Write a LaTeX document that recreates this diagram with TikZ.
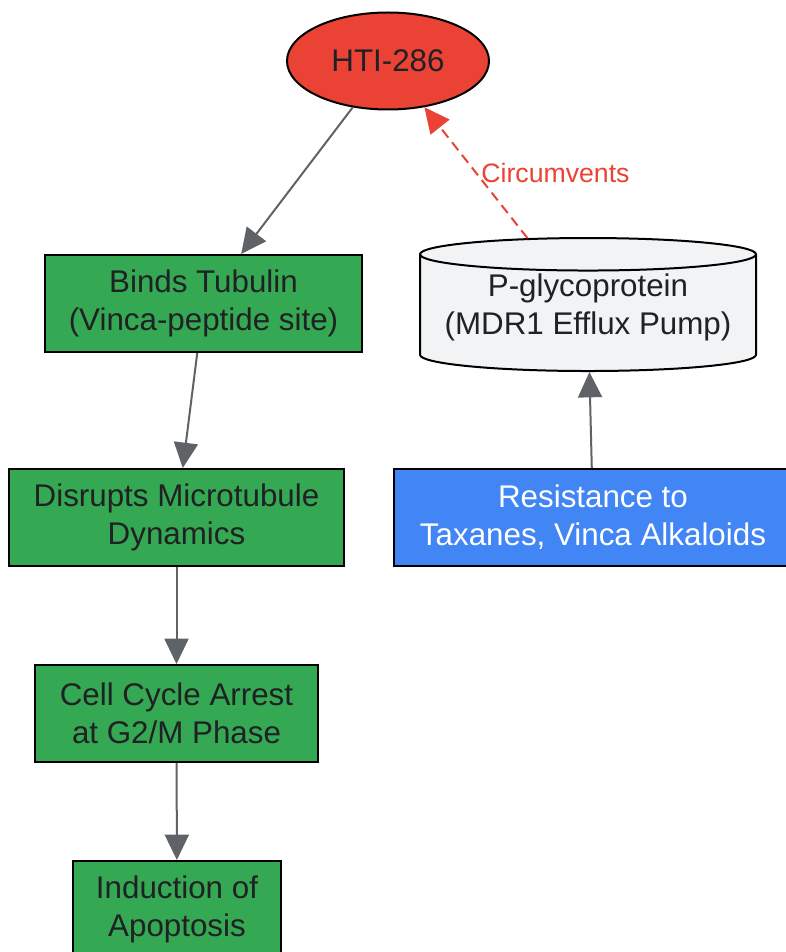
\documentclass[tikz,border=0pt]{standalone}
\usepackage{fontspec}
\setmainfont{Liberation Sans}
\usetikzlibrary{shapes.geometric,arrows.meta}
\definecolor{drugred}{HTML}{EA4335}
\definecolor{stepgreen}{HTML}{34A853}
\definecolor{resblue}{HTML}{4285F4}
\definecolor{pumpgray}{HTML}{F1F3F4}
\definecolor{edgegray}{HTML}{5F6368}
\definecolor{txt}{HTML}{202124}

\begin{document}
\begin{tikzpicture}[x=0.75pt,y=-0.75pt,
	box/.style={draw=black, line width=1.5pt, fill=stepgreen, text=txt, align=center,
		minimum height=72.75pt, inner sep=0pt, font=\fontsize{23.5}{28.5}\selectfont},
	flow/.style={draw=edgegray, line width=1.5pt, -{Triangle[length=19pt,width=18pt]}}]
	\useasboundingbox (0,0) rectangle (785,952);

	%drug
	\node[ellipse, draw=black, line width=1.5pt, fill=drugred, text=txt, inner sep=0pt,
		minimum width=151.5pt, minimum height=72.75pt, font=\fontsize{23.5}{28.5}\selectfont]
		(hti) at (388,61) {HTI-286};

	%mechanism
	\node[box, minimum width=237.75pt] (binds) at (203.5,303.5) {Binds Tubulin\\(Vinca-peptide site)};
	\node[box, minimum width=251.25pt] (disrupt) at (176.5,517.5) {Disrupts Microtubule\\Dynamics};
	\node[box, minimum width=212.25pt] (arrest) at (176.5,713.5) {Cell Cycle Arrest\\at G2/M Phase};
	\node[box, minimum width=156pt] (apop) at (177,909.5) {Induction of\\Apoptosis};

	%resistance
	\node[cylinder, shape border rotate=90, aspect=0.11, draw=black, line width=1.5pt,
		fill=pumpgray, minimum width=252pt, minimum height=99.75pt,
		font=\fontsize{23.5}{28.5}\selectfont]
		(pgp) at (588,315) {\phantom{(MDR1 Efflux Pump)}};
	\node[text=txt, align=center, inner sep=0pt, font=\fontsize{23.5}{28.5}\selectfont]
		(pgptext) at (588,307) {P-glycoprotein\\(MDR1 Efflux Pump)};
	\node[box, fill=resblue, text=white, minimum width=298.5pt] (resist) at (593,517.5)
		{Resistance to\\Taxanes, Vinca Alkaloids};

	%edges
	\draw[flow] (hti) -- (binds);
	\draw[flow] (binds) -- (disrupt);
	\draw[flow] (disrupt) -- (arrest);
	\draw[flow] (arrest) -- (apop);
	\draw[flow] (resist) -- (pgp);
	\draw[draw=drugred, line width=1.5pt, dash pattern=on 7.5pt off 4.5pt,
		-{Triangle[length=19pt,width=18pt]}] (pgp) -- (hti)
		node[pos=0.5, right, text=drugred, font=\fontsize{20}{24}\selectfont] {Circumvents};
\end{tikzpicture}
\end{document}
